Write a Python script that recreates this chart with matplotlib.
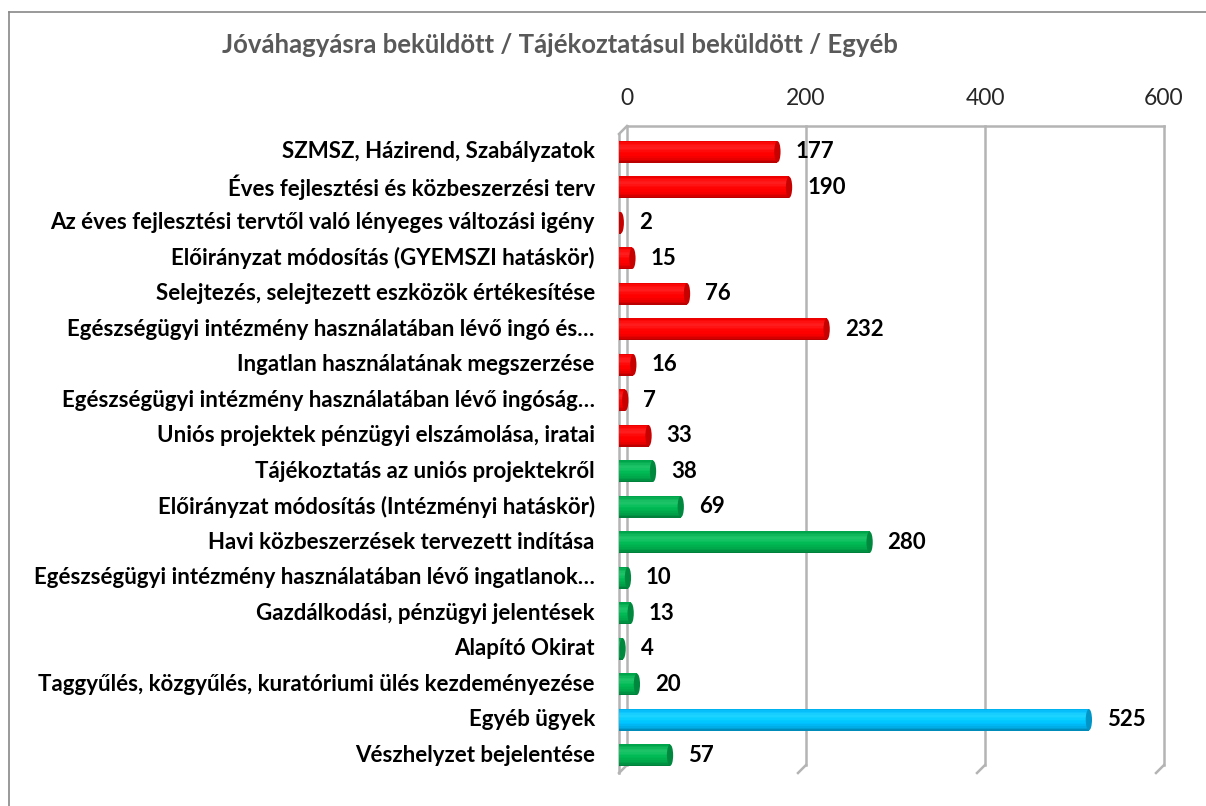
import numpy as np
import matplotlib
matplotlib.use('Agg')
import matplotlib.pyplot as plt
from matplotlib.patches import Ellipse
from matplotlib.transforms import ScaledTranslation, IdentityTransform
from matplotlib.lines import Line2D

plt.rcParams['font.family'] = ['Lato', 'DejaVu Sans']

title = 'Jóváhagyásra beküldött / Tájékoztatásul beküldött / Egyéb'
categories = [
    'SZMSZ, Házirend, Szabályzatok',
    'Éves fejlesztési és közbeszerzési terv',
    'Az éves fejlesztési tervtől való lényeges változási igény',
    'Előirányzat módosítás (GYEMSZI hatáskör)',
    'Selejtezés, selejtezett eszközök értékesítése',
    'Egészségügyi intézmény használatában lévő ingó és…',
    'Ingatlan használatának megszerzése',
    'Egészségügyi intézmény használatában lévő ingóság…',
    'Uniós projektek pénzügyi elszámolása, iratai',
    'Tájékoztatás az uniós projektekről',
    'Előirányzat módosítás (Intézményi hatáskör)',
    'Havi közbeszerzések tervezett indítása',
    'Egészségügyi intézmény használatában lévő ingatlanok…',
    'Gazdálkodási, pénzügyi jelentések',
    'Alapító Okirat',
    'Taggyűlés, közgyűlés, kuratóriumi ülés kezdeményezése',
    'Egyéb ügyek',
    'Vészhelyzet bejelentése',
]
values = [177, 190, 2, 15, 76, 232, 16, 7, 33, 38, 69, 280, 10, 13, 4, 20, 525, 57]
groups = ['J'] * 9 + ['T'] * 7 + ['E', 'T']
xticks = [0, 200, 400, 600]

colors = {'J': (1.0, 0.0, 0.0), 'T': (0.0, 0.69, 0.31), 'E': (0.0, 0.75, 1.0)}

fig = plt.figure(figsize=(12.06, 8.06), dpi=100)
W, H = 1206, 806
ax = fig.add_axes([619 / W, 1 - 773 / H, 537 / W, (773 - 134) / H])
ax.set_xlim(0, 600)
ax.set_ylim(len(values) - 0.5, -0.5)
ax.axis('off')

# outer frame (left and top visible)
fig.add_artist(Line2D([9 / W, 9 / W], [0, 1 - 12 / H], color='#888888', lw=1.2))
fig.add_artist(Line2D([9 / W, 1], [1 - 12 / H, 1 - 12 / H], color='#888888', lw=1.2))

# 3d-ish back wall
back = ax.transData + ScaledTranslation(0.08, 0.08, fig.dpi_scale_trans)
ybot, ytop = len(values) - 0.5, -0.5
gcol = '#b4b4b4'
fig.canvas.draw()
for t in xticks:
    ax.plot([t, t], [ybot, ytop], transform=back, color=gcol, lw=1.8, zorder=1, clip_on=False)
    p0 = ax.transData.transform((t, ybot))
    p1 = back.transform((t, ybot))
    ax.add_line(Line2D([p0[0], p1[0]], [p0[1], p1[1]], transform=IdentityTransform(),
                       color=gcol, lw=1.8, zorder=1, clip_on=False))
    ax.text(t, ytop, str(t), transform=back + ScaledTranslation(0, 0.17, fig.dpi_scale_trans),
            ha='center', va='bottom', fontsize=16.5, color='#262626')
ax.plot([xticks[0], xticks[-1]], [ytop, ytop], transform=back, color=gcol, lw=1.8,
        zorder=1, clip_on=False)
ax.plot([0, 0], [ybot, ytop], color=gcol, lw=1.8, zorder=1, clip_on=False)
p0 = ax.transData.transform((0, ytop))
p1 = back.transform((0, ytop))
ax.add_line(Line2D([p0[0], p1[0]], [p0[1], p1[1]], transform=IdentityTransform(),
                   color=gcol, lw=1.8, zorder=1, clip_on=False))

# cylinder bars
bh = 0.62
nstrip = 14
cap_w = 7.0
for i, (v, g) in enumerate(zip(values, groups)):
    base = np.array(colors[g])
    for k in range(nstrip):
        t = (k + 0.5) / nstrip
        shade = 0.62 + 0.45 * np.sin(np.pi * (0.15 + 0.85 * t)) ** 0.6
        c = np.clip(base * shade + (1 - base) * 0.12 * max(0, 1 - abs(t - 0.3) * 4), 0, 1)
        ax.barh(i - bh / 2 + t * bh, v, height=bh / nstrip + 0.002, color=c, lw=0, zorder=3)
    ax.add_patch(Ellipse((0, i), cap_w, bh, color=base * 0.95, lw=0, zorder=2.9))
    ax.add_patch(Ellipse((v, i), cap_w, bh * 0.97, color=base * 0.78, lw=0, zorder=4))
    ax.annotate(str(v), xy=(v, i), xytext=(18, 0), textcoords='offset pixels',
                ha='left', va='center', fontsize=16, fontweight='bold', color='black')
    ax.text(-0.045, i, categories[i], transform=ax.get_yaxis_transform(),
            ha='right', va='center', fontsize=16, fontweight='bold', color='black')

fig.text(560 / W, 1 - 45 / H, title, ha='center', va='center', fontsize=18.5,
         fontweight='bold', color='#595959')

fig.savefig('out.png', dpi=100)
